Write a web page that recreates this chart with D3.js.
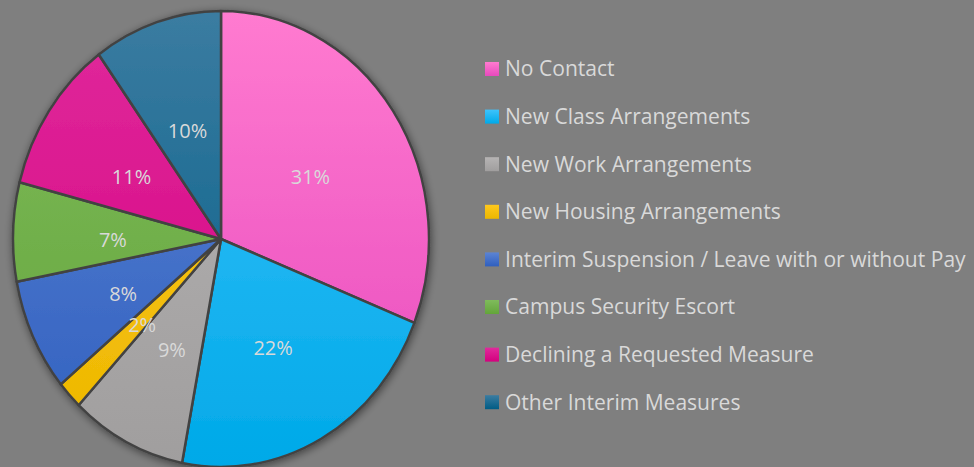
<!DOCTYPE html>
<html>
<head>
<meta charset="utf-8">
<script src="https://cdn.jsdelivr.net/npm/d3@7"></script>
<style>
  html, body { margin: 0; padding: 0; background: #7f7f7f; }
  svg { display: block; }
  text { font-family: "Open Sans", "DejaVu Sans", sans-serif; fill: #d9d9d9; }
</style>
</head>
<body>
<div id="chart"></div>
<script>
var categories = ["No Contact", "New Class Arrangements", "New Work Arrangements", "New Housing Arrangements",
    "Interim Suspension / Leave with or without Pay", "Campus Security Escort",
    "Declining a Requested Measure", "Other Interim Measures"];
var values = [31, 22, 9, 2, 8, 7, 11, 10];
var topColors = ["#ff7bd0", "#3ec3fc", "#b6b4b4", "#ffc81c", "#5c84d3", "#7fbb5c", "#e02a9c", "#3b7ca1"];
var bottomColors = ["#e749bd", "#00a9e8", "#a09e9e", "#ecb700", "#2f5fbf", "#63a53a", "#d4007e", "#005c85"];

var width = 974;
var height = 467;
var cx = 221, cy = 239;
var rx = 208, ry = 228;

var svg = d3.select("#chart")
    .append("svg")
    .attr("width", width)
    .attr("height", height);

var defs = svg.append("defs");

// soft shadow around the pie
var filter = defs.append("filter").attr("id", "shadow")
    .attr("x", "-10%").attr("y", "-10%").attr("width", "120%").attr("height", "120%");
filter.append("feGaussianBlur").attr("in", "SourceAlpha").attr("stdDeviation", 4).attr("result", "blur");
filter.append("feOffset").attr("in", "blur").attr("dx", 1).attr("dy", 2).attr("result", "off");
filter.append("feComponentTransfer").attr("in", "off").attr("result", "sh")
    .append("feFuncA").attr("type", "linear").attr("slope", 0.5);
var merge = filter.append("feMerge");
merge.append("feMergeNode").attr("in", "sh");
merge.append("feMergeNode").attr("in", "SourceGraphic");

// one vertical gradient per slice, spanning the whole pie
categories.forEach(function (c, i) {
    var g = defs.append("linearGradient")
        .attr("id", "grad" + i)
        .attr("gradientUnits", "userSpaceOnUse")
        .attr("x1", 0).attr("y1", -rx).attr("x2", 0).attr("y2", rx);
    g.append("stop").attr("offset", "0%").attr("stop-color", topColors[i]);
    g.append("stop").attr("offset", "100%").attr("stop-color", bottomColors[i]);

    var lg = defs.append("linearGradient")
        .attr("id", "lgrad" + i)
        .attr("x1", 0).attr("y1", 0).attr("x2", 0).attr("y2", 1);
    lg.append("stop").attr("offset", "0%").attr("stop-color", topColors[i]);
    lg.append("stop").attr("offset", "100%").attr("stop-color", bottomColors[i]);
});

var pie = d3.pie().sort(null).value(function (d) { return d; });
var arcs = pie(values);

var arc = d3.arc().innerRadius(0).outerRadius(rx);

var pieG = svg.append("g")
    .attr("filter", "url(#shadow)")
    .attr("transform", "translate(" + cx + "," + cy + ") scale(1," + (ry / rx) + ")");

pieG.selectAll("path")
    .data(arcs)
    .enter()
    .append("path")
    .attr("d", arc)
    .attr("fill", function (d, i) { return "url(#grad" + i + ")"; })
    .attr("stroke", "#434343")
    .attr("stroke-width", 2.5)
    .attr("vector-effect", "non-scaling-stroke")
    .attr("stroke-linejoin", "round");

// percentage labels, about halfway out
var labelArc = d3.arc().innerRadius(rx * 0.52).outerRadius(rx * 0.52);
svg.append("g")
    .selectAll("text")
    .data(arcs)
    .enter()
    .append("text")
    .attr("x", function (d) { return cx + labelArc.centroid(d)[0]; })
    .attr("y", function (d) { return cy + 5 + labelArc.centroid(d)[1] * ry / rx; })
    .attr("text-anchor", "middle")
    .attr("dy", "0.35em")
    .style("font-size", "20px")
    .text(function (d) { return d.value + "%"; });

// legend
var legend = svg.append("g")
    .selectAll("g")
    .data(categories)
    .enter()
    .append("g")
    .attr("transform", function (d, i) { return "translate(485," + (62 + i * 47.6) + ")"; });

legend.append("rect")
    .attr("width", 14)
    .attr("height", 14)
    .attr("fill", function (d, i) { return "url(#lgrad" + i + ")"; });

legend.append("text")
    .attr("x", 20)
    .attr("y", 7)
    .attr("dy", "0.35em")
    .style("font-size", "19px")
    .text(function (d) { return d; });

// fit the longest legend entry to the same width as the original
var longest = legend.selectAll("text").nodes()[4];
var w = longest.getComputedTextLength();
var fs = 19 * 461 / w;
legend.selectAll("text").style("font-size", fs + "px");
</script>
</body>
</html>
